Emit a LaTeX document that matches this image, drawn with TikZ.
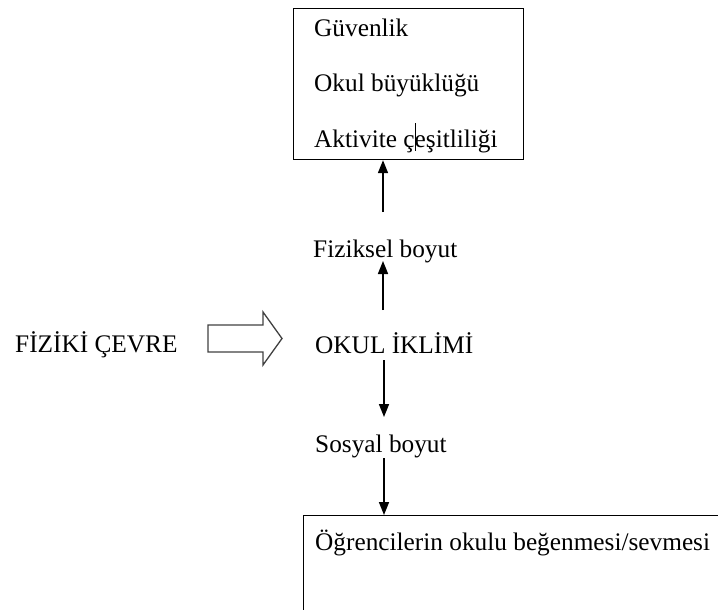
\documentclass[tikz,border=0pt]{standalone}
\usepackage{fontspec}
\setmainfont{Liberation Serif}
\usetikzlibrary{arrows.meta}
\begin{document}
\begin{tikzpicture}[x=1pt,y=-1pt,
  lbl/.style={anchor=base west,inner sep=0pt,font=\fontsize{25.3}{30}\selectfont},
  arr/.style={line width=1.7pt,-{Triangle[length=13pt,width=10pt]}},
  frame/.style={draw,line width=1.2pt,inner sep=0pt,anchor=north west},
  blockarrow/.style={draw=black!75,line width=1.3pt,line join=miter}]
\useasboundingbox (0,0) rectangle (718,610);
\clip (0,0) rectangle (718,610);
% top box
\node[frame,minimum width=230,minimum height=151] (top) at (293,8) {};
\node[lbl] (g1) at (314,37) {Güvenlik};
\node[lbl] (g2) at (314,92) {Okul büyüklüğü};
\node[lbl] (g3) at (314,147) {Aktivite çeşitliliği};
\draw[line width=0.8pt] (415,123) -- (415,151);
% middle labels
\node[lbl] (fiz) at (313,257) {Fiziksel boyut};
\node[lbl] (okul) at (315,353) {OKUL İKLİMİ};
\node[lbl] (fc) at (15,352) {FİZİKİ ÇEVRE};
\node[lbl] (sos) at (315,452) {Sosyal boyut};
% bottom box
\node[frame,minimum width=440,minimum height=130] (bot) at (303,515) {};
\node[lbl] (ogr) at (315,550) {Öğrencilerin okulu beğenmesi/sevmesi};
% arrows
\coordinate (a1s) at (383,212);
\draw[arr] (a1s) -- (a1s |- top.south);
\coordinate (a2s) at (383,310);
\coordinate (a2e) at (383,261);
\draw[arr] (a2s) -- (a2e);
\coordinate (a3s) at (384,360);
\coordinate (a3e) at (384,417);
\draw[arr] (a3s) -- (a3e);
\coordinate (a4s) at (384,458);
\draw[arr] (a4s) -- (a4s |- bot.north);
% block arrow
\draw[blockarrow] (208,325) -- (263,325) -- (263,312) -- (282,338.5) -- (263,365) -- (263,352) -- (208,352) -- cycle;
\end{tikzpicture}
\end{document}
